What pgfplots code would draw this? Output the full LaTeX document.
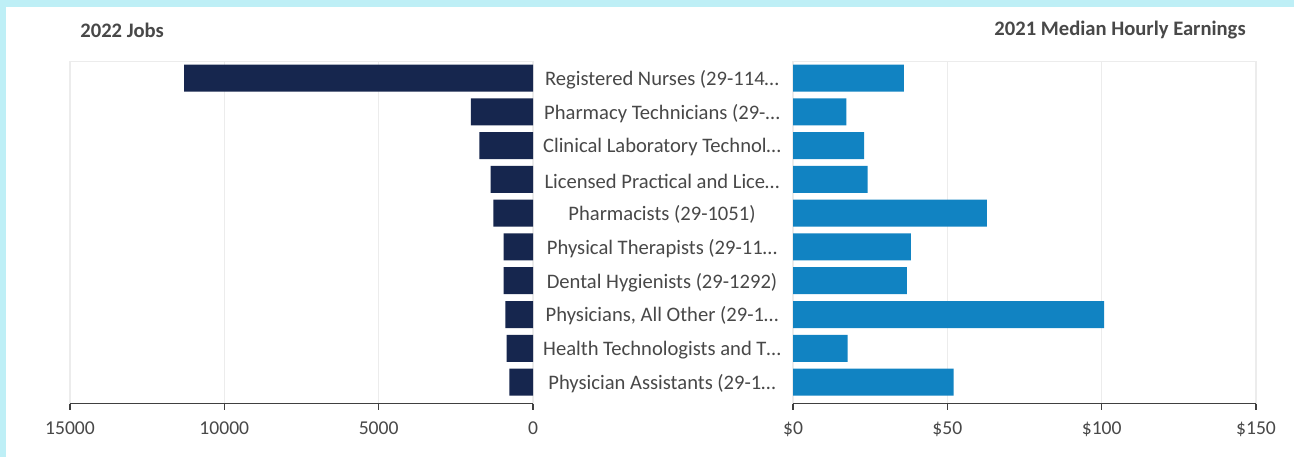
\documentclass[border=0pt]{standalone}
\usepackage{fontspec}
\setmainfont{Carlito}
\usepackage{pgfplots}
\pgfplotsset{compat=1.18}
\definecolor{jobsnavy}{RGB}{22,38,78}
\definecolor{paybl}{RGB}{17,131,194}
\definecolor{edgecyan}{RGB}{190,239,246}
\definecolor{labgray}{RGB}{72,72,72}
\definecolor{framegray}{RGB}{236,236,236}

\begin{document}
\begin{tikzpicture}[x=1pt,y=1pt]
\fill[white] (0,0) rectangle (647,-228.5);
\fill[edgecyan] (0,0) rectangle (647,-3.5);
\fill[edgecyan] (0,0) rectangle (3,-228.5);
\useasboundingbox (0,0) rectangle (647,-228.5);

\node[anchor=west, inner sep=0pt, font=\bfseries\fontsize{10.3}{12}\selectfont, text=labgray] at (40,-15) {2022 Jobs};
\node[anchor=east, inner sep=0pt, font=\bfseries\fontsize{10.3}{12}\selectfont, text=labgray] at (623,-15) {2021 Median Hourly Earnings};

% categories run bottom (0) to top (9)
\pgfplotsset{panel/.style={
  scale only axis, width=231.5pt, height=171.3pt,
  xbar, bar width=0.8,
  ymin=-0.64, ymax=9.51, enlargelimits=false,
  axis line style={draw=framegray},
  xmajorgrids, grid style={framegray, line width=0.6pt},
  xtick pos=bottom, tick align=outside, major tick length=3pt,
  xtick style={draw=black!75, line width=0.7pt},
  tick label style={font=\fontsize{9.8}{11}\selectfont, text=labgray},
  xticklabel style={yshift=-2.5pt},
  /pgf/number format/assume math mode=true,
  /pgf/number format/1000 sep={},
  scaled x ticks=false,
}}

% left panel: jobs
\begin{axis}[panel, at={(150.75pt,-116.15pt)}, anchor=center,
  x dir=reverse, xmin=0, xmax=15000, xtick={0,5000,10000,15000},
  ytick={0,...,9}, ytick style={draw=none},
  yticklabel pos=right,
  yticklabel style={anchor=center, xshift=61.5pt, yshift=-0.8pt, font=\fontsize{10.3}{12}\selectfont},
  yticklabels={Physician Assistants (29-1…, Health Technologists and T…,
    {Physicians, All Other (29-1…}, Dental Hygienists (29-1292),
    Physical Therapists (29-11…, Pharmacists (29-1051),
    Licensed Practical and Lice…, Clinical Laboratory Technol…,
    Pharmacy Technicians (29-…, Registered Nurses (29-114…},
]
\addplot[draw=none, fill=jobsnavy] coordinates {
  (768,0) (852,1) (897,2) (950,3) (950,4)
  (1285,5) (1370,6) (1740,7) (2010,8) (11300,9)};
\end{axis}

% right panel: median hourly earnings
\begin{axis}[panel, at={(512.25pt,-116.15pt)}, anchor=center,
  xmin=0, xmax=150, xtick={0,50,100,150},
  xticklabels={\$0,\$50,\$100,\$150},
  ytick=\empty,
]
\addplot[draw=none, fill=paybl] coordinates {
  (52.0,0) (17.7,1) (100.8,2) (36.9,3) (38.2,4)
  (62.8,5) (24.2,6) (23.0,7) (17.3,8) (35.9,9)};
\end{axis}

\draw[black!75, line width=0.7pt] (35,-201.8) -- (266.5,-201.8);
\draw[black!75, line width=0.7pt] (396.5,-201.8) -- (628,-201.8);
\end{tikzpicture}
\end{document}
